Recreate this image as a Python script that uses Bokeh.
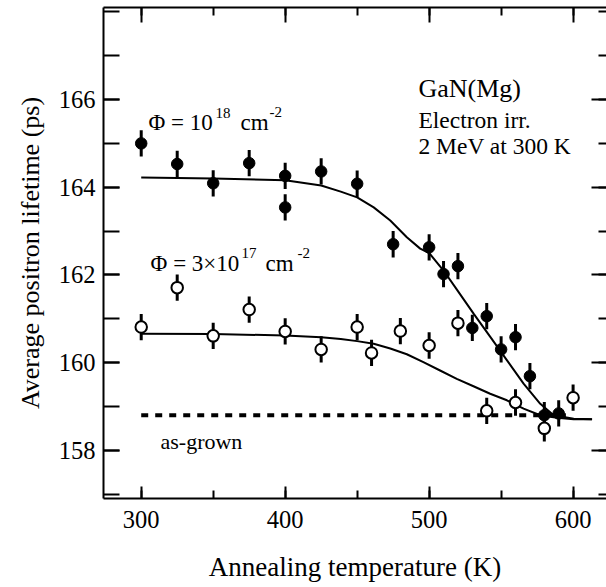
from bokeh.plotting import figure
from bokeh.models import ColumnDataSource, FixedTicker, LinearAxis, Label, Range1d
from bokeh.embed import file_html
from bokeh.resources import INLINE

# ---- data ----
hi_T = [300, 325, 350, 375, 400, 400, 425, 450, 475, 500, 510, 520, 530, 540, 550, 560, 570, 580, 590]
hi_tau = [165.0, 164.53, 164.09, 164.55, 164.26, 163.54, 164.36, 164.08, 162.70, 162.63, 162.02, 162.20,
          160.79, 161.06, 160.30, 160.58, 159.69, 158.80, 158.84]
hi_err = [0.3] * len(hi_T)

lo_T = [300, 325, 350, 375, 400, 425, 450, 460, 480, 500, 520, 540, 560, 580, 600]
lo_tau = [160.81, 161.71, 160.61, 161.21, 160.71, 160.30, 160.81, 160.22, 160.72, 160.39, 160.90,
          158.90, 159.09, 158.50, 159.20]
lo_err = [0.3] * len(lo_T)

fit_hi_T = [300, 350, 400, 425, 438.6, 450, 461.5, 473, 484.5, 493.8, 500, 510, 519.4, 531, 542.6,
            554.1, 565.6, 577.2, 586.5, 600.4, 613.2]
fit_hi_tau = [164.22, 164.20, 164.16, 164.04, 163.90, 163.77, 163.54, 163.24, 162.86, 162.60, 162.50,
              162.10, 161.66, 161.11, 160.58, 160.05, 159.52, 159.06, 158.80, 158.72, 158.71]

fit_lo_T = [300, 350, 400, 425, 438.6, 450, 461.5, 473, 484.5, 496, 507.6, 519.2, 530.8, 542.4, 554,
            565.6, 577.2, 588.8, 600.4, 613]
fit_lo_tau = [160.66, 160.65, 160.62, 160.58, 160.54, 160.49, 160.43, 160.32, 160.19, 160.01, 159.82,
              159.63, 159.46, 159.29, 159.14, 158.95, 158.80, 158.74, 158.71, 158.71]

asgrown_T = [300, 595]
asgrown_tau = [158.8, 158.8]

x_ticks = [300, 400, 500, 600]
x_minor = [300, 350, 400, 450, 500, 550, 600]
y_ticks = [158, 160, 162, 164, 166]
y_minor = [157, 158, 159, 160, 161, 162, 163, 164, 165, 166, 167, 168]

FONT = "'Liberation Serif', 'Times New Roman', serif"

p = figure(width=606, height=587, output_backend="svg", toolbar_location=None,
           x_range=Range1d(273.8, 623.2), y_range=Range1d(156.9, 168.1),
           min_border_left=103, min_border_right=0, min_border_top=7, min_border_bottom=89,
           background_fill_color="white", border_fill_color="white")
p.outline_line_color = None
p.grid.visible = False

def style_axis(ax, major_in, minor_in):
    ax.axis_line_color = "black"
    ax.axis_line_width = 2
    ax.major_tick_line_color = "black"
    ax.minor_tick_line_color = "black"
    ax.major_tick_line_width = 2
    ax.minor_tick_line_width = 2
    ax.major_tick_in = major_in
    ax.major_tick_out = 0
    ax.minor_tick_in = minor_in
    ax.minor_tick_out = 0
    ax.major_label_text_font = FONT
    ax.major_label_text_color = "black"
    ax.axis_label_text_font = FONT
    ax.axis_label_text_font_style = "normal"
    ax.axis_label_text_color = "black"

xa = p.xaxis[0]
xa.ticker = FixedTicker(ticks=x_ticks, minor_ticks=x_minor)
style_axis(xa, 12, 8)
xa.major_label_text_font_size = "24.5px"
xa.major_label_standoff = 12
xa.axis_label = "Annealing temperature (K)"
xa.axis_label_text_font_size = "27px"
xa.axis_label_standoff = 21

ya = p.yaxis[0]
ya.ticker = FixedTicker(ticks=y_ticks, minor_ticks=y_minor)
style_axis(ya, 16, 16)
ya.major_label_text_font_size = "24.5px"
ya.major_label_standoff = 8
ya.axis_label = "Average positron lifetime (ps)"
ya.axis_label_text_font_size = "26px"
ya.axis_label_standoff = 11

top = LinearAxis(ticker=FixedTicker(ticks=x_ticks, minor_ticks=x_minor))
style_axis(top, 15, 8)
top.major_label_overrides = {t: "" for t in x_ticks}
top.major_label_standoff = 0
p.add_layout(top, "above")

right = LinearAxis(ticker=FixedTicker(ticks=y_ticks, minor_ticks=y_minor))
style_axis(right, 15, 8)
right.major_label_overrides = {t: "" for t in y_ticks}
right.major_label_standoff = 0
right.axis_line_color = None
p.add_layout(right, "right")

# fit curves
p.line(fit_hi_T, fit_hi_tau, line_color="black", line_width=2)
p.line(fit_lo_T, fit_lo_tau, line_color="black", line_width=2)
# as-grown level
p.line(asgrown_T, asgrown_tau, line_color="black", line_width=4, line_dash="7 7")

hi = ColumnDataSource(dict(x=hi_T, y=hi_tau, y0=[v - e for v, e in zip(hi_tau, hi_err)],
                           y1=[v + e for v, e in zip(hi_tau, hi_err)]))
lo = ColumnDataSource(dict(x=lo_T, y=lo_tau, y0=[v - e for v, e in zip(lo_tau, lo_err)],
                           y1=[v + e for v, e in zip(lo_tau, lo_err)]))

p.segment(x0="x", y0="y0", x1="x", y1="y1", source=hi, line_color="black", line_width=3)
p.segment(x0="x", y0="y0", x1="x", y1="y1", source=lo, line_color="black", line_width=3)
p.scatter("x", "y", source=hi, size=11.5, fill_color="black", line_color="black")
p.scatter("x", "y", source=lo, size=11.5, fill_color="white", line_color="black", line_width=2)

def lab(x, y, text, size, dx=0):
    p.add_layout(Label(x=x, y=y, x_offset=dx, text=text, text_font=FONT, text_font_size=size,
                       text_color="black", text_baseline="alphabetic", text_align="left"))

# Phi = 10^18 cm^-2
lab(305.1, 165.48, "Φ = 10", "23px")
lab(305.1, 165.70, "18", "15px", 67)
lab(305.1, 165.48, "cm", "23px", 92)
lab(305.1, 165.72, "-2", "15px", 121)
# Phi = 3x10^17 cm^-2
lab(306.5, 162.25, "Φ = 3×10", "23px")
lab(306.5, 162.49, "17", "15px", 91)
lab(306.5, 162.25, "cm", "23px", 115)
lab(306.5, 162.49, "-2", "15px", 147)

lab(313.4, 158.19, "as-grown", "22px")
lab(492.6, 166.25, "GaN(Mg)", "26px")
lab(492.6, 165.54, "Electron irr.", "23.5px")
lab(492.6, 164.95, "2 MeV at 300 K", "23.5px")

open("out.html", "w").write(file_html(p, INLINE))
